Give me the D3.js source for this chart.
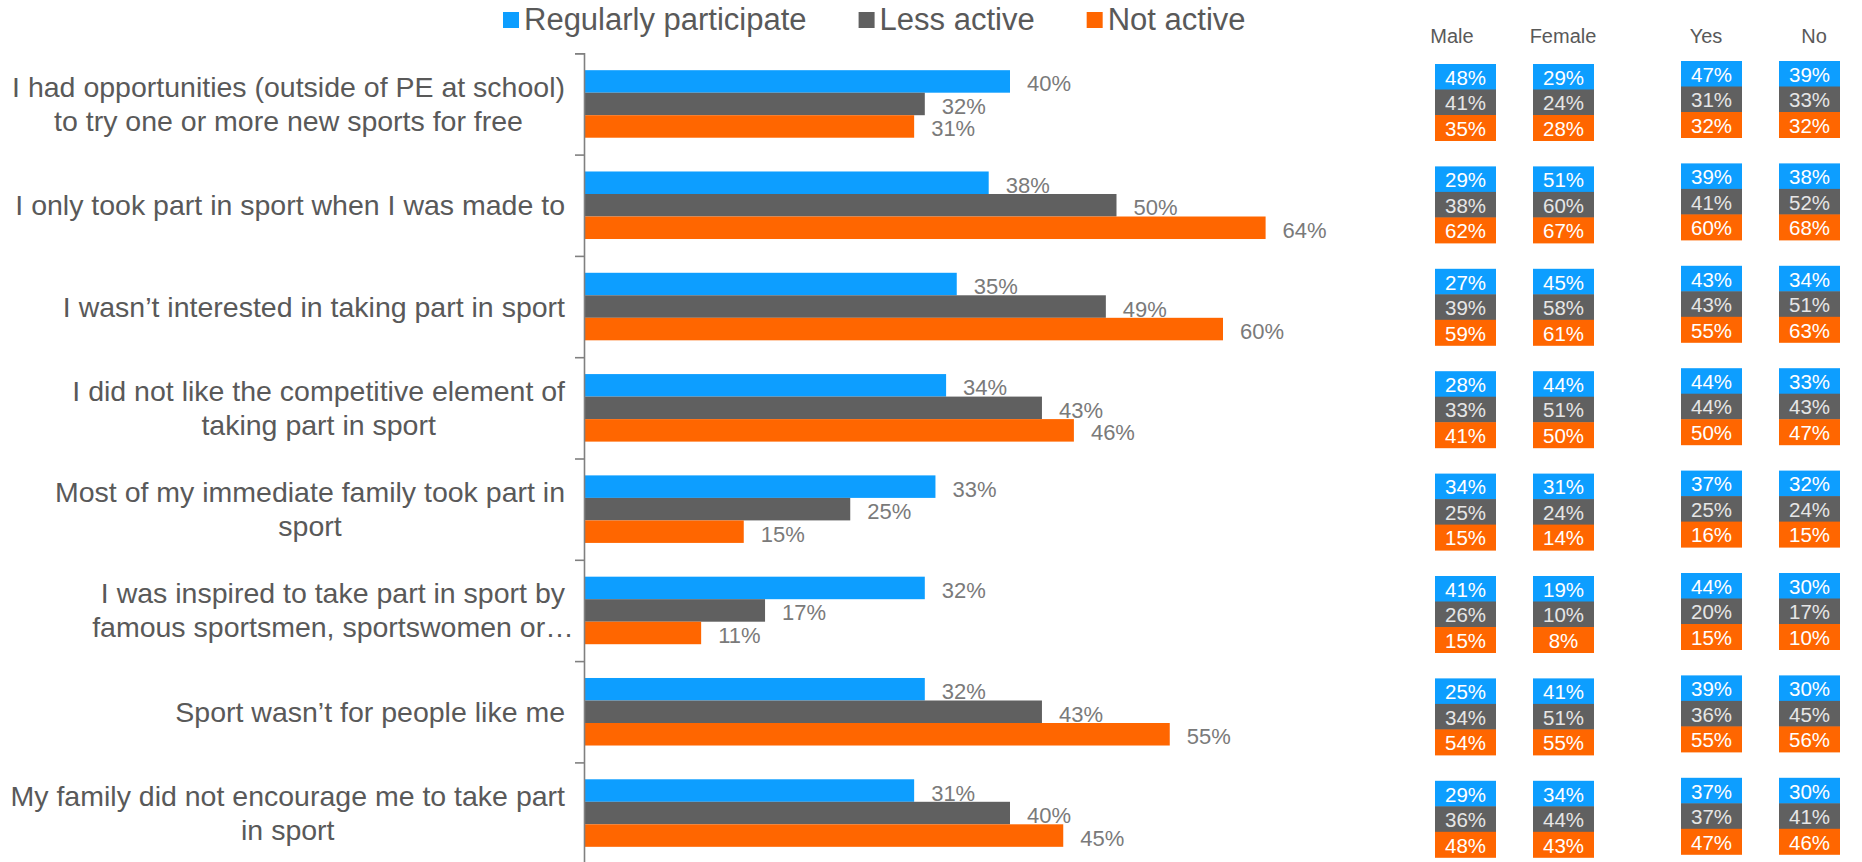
<!DOCTYPE html>
<html>
<head>
<meta charset="utf-8">
<script src="https://cdn.jsdelivr.net/npm/d3@7"></script>
<style>
  html, body { margin: 0; padding: 0; background: #fff; }
  svg { display: block; font-family: "Liberation Sans", Arial, Helvetica, sans-serif; }
</style>
</head>
<body>
<svg id="chart" width="1862" height="862"></svg>
<script>
// Statements (one per bar group), wrapped as shown on the axis
const categoryLines = [
  ["I had opportunities (outside of PE at school)", "to try one or more new sports for free"],
  ["I only took part in sport when I was made to"],
  ["I wasn\u2019t interested in taking part in sport"],
  ["I did not like the competitive element of", "taking part in sport"],
  ["Most of my immediate family took part in", "sport"],
  ["I was inspired to take part in sport by", "famous sportsmen, sportswomen or\u2026"],
  ["Sport wasn\u2019t for people like me"],
  ["My family did not encourage me to take part", "in sport"]
];
const categories = categoryLines.map(l => l.join(" "));

const seriesNames = ["Regularly participate", "Less active", "Not active"];
const seriesColors = ["#0d9eff", "#606060", "#ff6600"];

// Share agreeing (%) by activity level
const regularly  = [40, 38, 35, 34, 33, 32, 32, 31];
const lessActive = [32, 50, 49, 43, 25, 17, 43, 40];
const notActive  = [31, 64, 60, 46, 15, 11, 55, 45];

// Breakdown tables: [regularly, less active, not active] per statement
const columns = ["Male", "Female", "Yes", "No"];
const male = [[48,41,35],[29,38,62],[27,39,59],[28,33,41],[34,25,15],[41,26,15],[25,34,54],[29,36,48]];
const female = [[29,24,28],[51,60,67],[45,58,61],[44,51,50],[31,24,14],[19,10,8],[41,51,55],[34,44,43]];
const yes = [[47,31,32],[39,41,60],[43,43,55],[44,44,50],[37,25,16],[44,20,15],[39,36,55],[37,37,47]];
const no = [[39,33,32],[38,52,68],[34,51,63],[33,43,47],[32,24,15],[30,17,10],[30,45,56],[30,41,46]];

const series = [regularly, lessActive, notActive];
const tables = [male, female, yes, no];

const svg = d3.select("#chart");
const TEXT = "#595959";

// ---- scales ----
const axisX = 584;
const x = d3.scaleLinear().domain([0, 100]).range([axisX, axisX + 1065]);
const yTop = 53.3, yBottom = 863.7;
const y = d3.scaleBand().domain(categories).range([yTop, yBottom])
  .paddingInner(1 / 3).paddingOuter(1 / 6);
const ySub = d3.scaleBand().domain(seriesNames).range([0, y.bandwidth()]);

// ---- bars ----
const groups = svg.append("g").selectAll("g")
  .data(categories)
  .join("g")
  .attr("transform", d => `translate(0,${y(d)})`);

groups.each(function (cat, ci) {
  const g = d3.select(this);
  seriesNames.forEach((s, si) => {
    const v = series[si][ci];
    g.append("rect")
      .attr("x", x(0))
      .attr("y", ySub(s))
      .attr("width", x(v) - x(0))
      .attr("height", ySub.bandwidth())
      .attr("fill", seriesColors[si]);
    g.append("text")
      .attr("x", x(v) + 17)
      .attr("y", ySub(s) + ySub.bandwidth() / 2 + 10)
      .attr("font-size", 22)
      .attr("fill", "#7a7a7a")
      .text(v + "%");
  });
});

// ---- axis with ticks between groups ----
const yEdges = d3.scaleLinear().domain([0, categories.length]).range([yTop, yBottom]);
const axis = svg.append("g")
  .attr("transform", `translate(${axisX},0)`)
  .call(d3.axisLeft(yEdges).ticks(categories.length).tickSize(9).tickSizeOuter(9).tickFormat(""));
axis.selectAll("path, line").attr("stroke", "#808080").attr("stroke-width", 1.6);

// ---- category labels (lines centred, block right-aligned) ----
const labelRight = 565;
const lineH = 34;
categoryLines.forEach((lines, ci) => {
  const cy = y(categories[ci]) + y.bandwidth() / 2;
  const t = svg.append("text")
    .attr("font-size", 28.5)
    .attr("fill", TEXT)
    .attr("text-anchor", "middle");
  const first = t.append("tspan").text(lines[0]);
  const w = first.node().getComputedTextLength();
  const cx = labelRight - w / 2;
  const startY = cy - (lines.length - 1) * lineH / 2 + 10;
  t.selectAll("tspan").remove();
  lines.forEach((ln, li) => {
    t.append("tspan").attr("x", cx).attr("y", startY + li * lineH).text(ln);
  });
});

// ---- legend ----
const legend = svg.append("g");
let lx = 503;
seriesNames.forEach((s, si) => {
  legend.append("rect").attr("x", lx).attr("y", 12).attr("width", 16).attr("height", 16)
    .attr("fill", seriesColors[si]);
  const t = legend.append("text").attr("x", lx + 21).attr("y", 30)
    .attr("font-size", 31).attr("fill", TEXT).text(s);
  lx += 21 + t.node().getComputedTextLength() + 52;
});

// ---- breakdown tables ----
const colX = d3.scaleOrdinal().domain(columns).range([1435, 1533, 1681, 1779]);
const colTopShift = d3.scaleOrdinal().domain(columns).range([0, 0, -3, -3]);
const headerX = d3.scaleOrdinal().domain(columns).range([1452, 1563, 1706, 1814]);
const cellW = 61, cellH = 25.5;
const yTable = d3.scaleBand().domain(categories).range([64, 64 + 8 * 102.4]);

svg.append("g").selectAll("text")
  .data(columns)
  .join("text")
  .attr("x", d => headerX(d))
  .attr("y", 43)
  .attr("text-anchor", "middle")
  .attr("font-size", 20)
  .attr("fill", TEXT)
  .text(d => d);

const tableG = svg.append("g");
columns.forEach((col, k) => {
  categories.forEach((cat, ci) => {
    const top = yTable(cat) + colTopShift(col);
    tables[k][ci].forEach((v, si) => {
      const cy = top + si * cellH;
      tableG.append("rect")
        .attr("x", colX(col)).attr("y", cy)
        .attr("width", cellW).attr("height", cellH + 0.5)
        .attr("fill", seriesColors[si]);
      tableG.append("text")
        .attr("x", colX(col) + cellW / 2)
        .attr("y", cy + cellH / 2 + 8)
        .attr("text-anchor", "middle")
        .attr("font-size", 20.5)
        .attr("fill", si === 1 ? "#e6e6e6" : "#ffffff")
        .text(v + "%");
    });
  });
});
</script>
</body>
</html>
